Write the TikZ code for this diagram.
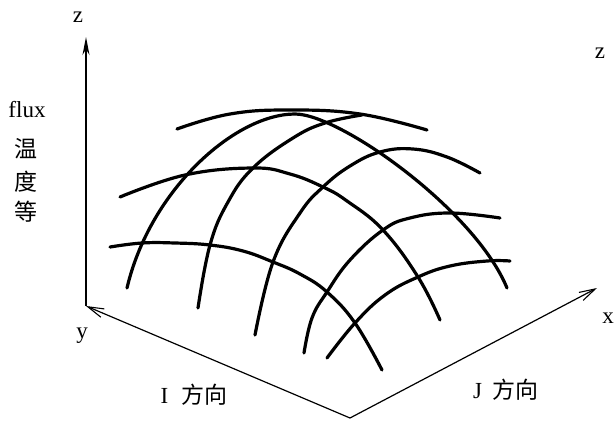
\documentclass[tikz,border=0pt]{standalone}
\usepackage{fontspec}
\setmainfont{Liberation Serif}
\newfontfamily\cjk{Noto Sans CJK SC}
\usetikzlibrary{arrows.meta}
\begin{document}
\begin{tikzpicture}[x=1pt,y=-1pt,
  axisline/.style={line width=1.2pt,black},
  gridline/.style={line width=3.2pt,black,line cap=round,smooth,tension=0.7},
  lab/.style={inner sep=0pt,font=\fontsize{23}{25}\selectfont},
  barb/.style={-{Straight Barb[length=16pt,width=9pt,line width=1.1pt]}},
  zarrow/.style={-{Stealth[length=18pt,width=7pt]}}]
\useasboundingbox (0,0) rectangle (614,421);
% axes
\coordinate (O) at (350,418);
\coordinate (Yend) at (86,306);
\coordinate (Zend) at (86,37);
\coordinate (Xend) at (597,288);
\draw[axisline,barb] (O) -- (Yend);
\draw[axisline,zarrow] (Yend) -- (Zend);
\draw[axisline,barb] (O) -- (Xend);
% labels
\node[lab] (zl) at (78,17) {z};
\node[lab] (zr) at (600,53) {z};
\node[lab] (xl) at (608,318) {x};
\node[lab] (yl) at (82,336) {y};
\node[lab] (flux) at (27,110) {flux};
\node[lab] (c1) at (26,149) {\cjk 温};
\node[lab] (c2) at (26,182) {\cjk 度};
\node[lab] (c3) at (26,212) {\cjk 等};
\node[lab] (ilab) at (194,395) {I\hspace{13pt}{\cjk 方向}};
\node[lab] (jlab) at (506,390) {J\hspace{11pt}{\cjk 方向}};
% grid curves (I direction)
\draw[gridline] plot coordinates {(177,129) (230,114) (290,110) (360,114) (427,130)};
\draw[gridline] plot coordinates {(120,197) (185,175) (253,168) (290,174) (323,187) (347,201) (383,230) (418,277) (440,320)};
\draw[gridline] plot coordinates {(110,247) (142,243) (175,243) (210,245) (243,251) (273,262) (300,274) (327,292) (355,323) (382,370)};
% grid curves (J direction)
\draw[line width=3.2pt,line cap=round] (127,288) .. controls (150,190) and (235,114) .. (295,114)
  .. controls (340,114) and (475,210) .. (507,288);
\draw[gridline] plot coordinates {(198,308) (210,245) (228,202) (253,168) (293,138) (325,123) (362,115)};
\draw[gridline] plot coordinates {(255,335) (273,262) (300,213) (323,187) (350,166) (380,152) (413,149) (447,157) (480,173)};
\draw[gridline] plot coordinates {(304,353) (312,318) (327,292) (350,260) (383,230) (410,218) (450,213) (500,218)};
\draw[gridline] plot coordinates {(327,358) (355,323) (385,295) (418,277) (450,266) (487,261) (510,261)};
\end{tikzpicture}
\end{document}
